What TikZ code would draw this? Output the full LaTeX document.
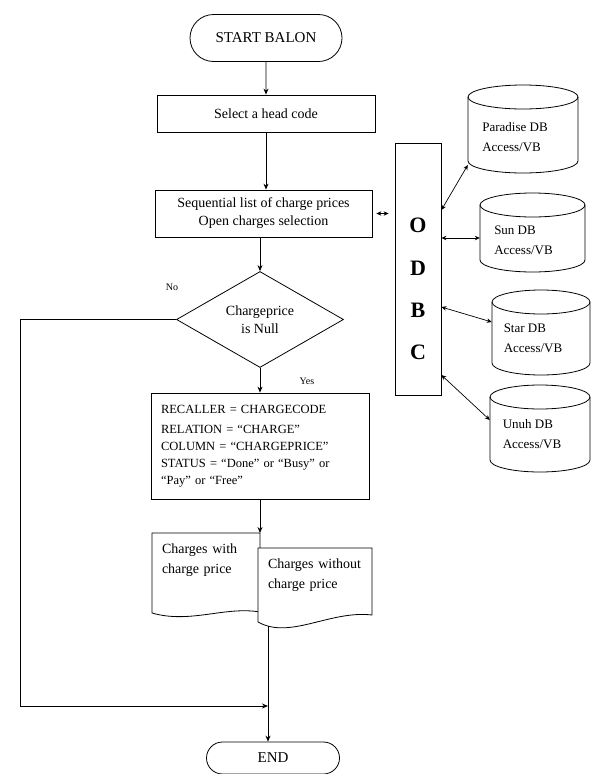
\documentclass[tikz,border=0pt]{standalone}
\usepackage{fontspec}
\setmainfont{Liberation Serif}
\usetikzlibrary{shapes.geometric,shapes.misc,arrows.meta}
\newcommand\dbcyl[5]{%
  \draw[line width=0.8pt, fill=white] (#1,#2+#5) -- (#1,#4-#5)
    .. controls (#1,#4-#5+0.552*#5) and ({(#1+#3)/2-0.552*(#3-#1)/2},#4) .. ({(#1+#3)/2},#4)
    .. controls ({(#1+#3)/2+0.552*(#3-#1)/2},#4) and (#3,#4-#5+0.552*#5) .. (#3,#4-#5) -- (#3,#2+#5);
  \draw[line width=0.8pt] ({(#1+#3)/2},#2+#5) ellipse [x radius={(#3-#1)/2*1pt}, y radius=#5pt];
}
\begin{document}
\begin{tikzpicture}[x=1pt,y=-1pt,
  every node/.style={font=\fontsize{14}{18}\selectfont},
  arr/.style={-{Stealth[length=6pt,width=5pt]}, line width=0.8pt},
  darr/.style={{Stealth[length=5pt,width=4.5pt]}-{Stealth[length=5pt,width=4.5pt]}, line width=0.7pt},
  term/.style={draw, line width=0.8pt, rounded rectangle, inner sep=0, font=\fontsize{15}{18}\selectfont},
  procbox/.style={draw, line width=0.8pt, rectangle, align=center, inner sep=0, fill=white},
  letter/.style={font=\bfseries\fontsize{22}{22}\selectfont},
  dbtext/.style={align=left, font=\fontsize{13}{20}\selectfont, inner sep=0},
  doctext/.style={align=left, inner sep=0, font=\fontsize{14}{20}\selectfont},
  lbl/.style={font=\fontsize{10}{12}\selectfont},
  ]
\useasboundingbox (0,0) rectangle (594,774);

% main column
\node[term, minimum width=152pt, minimum height=47pt] (start) at (266,38) {START BALON};
\node[procbox, minimum width=218pt, minimum height=37pt] (sel) at (266,113.5) {Select a head code};
\node[procbox, minimum width=217pt, minimum height=47pt] (seq) at (263.5,213.5) {Sequential list of charge prices\\Open charges selection};
\node[diamond, draw, line width=0.8pt, minimum width=167pt, minimum height=95pt, inner sep=0, align=center] (dec) at (260,319.5) {Chargeprice\\is Null};
\node[procbox, minimum width=218pt, minimum height=106pt, align=left, text width=198pt, font=\fontsize{12.5}{17}\selectfont] (rec) at (260,446) {RECALLER = CHARGECODE\\[3pt]RELATION = ``CHARGE''\\COLUMN = ``CHARGEPRICE''\\STATUS = ``Done'' or ``Busy'' or\\``Pay'' or ``Free''};

% documents
\draw[line width=0.8pt, fill=white] (152,533) -- (260,533) -- (260,612) .. controls (225,606) and (190,624) .. (152,613) -- cycle;
\node[doctext, text width=88pt] (d1) at (206,560) {Charges with\\charge price};
\draw[line width=0.8pt, fill=white] (258,548) -- (372,548) -- (372,615) .. controls (330,610) and (290,640) .. (258,622) -- cycle;
\node[doctext, text width=98pt] (d2) at (317,575) {Charges without\\charge price};
\coordinate (d2b) at (268,626);
\node[term, minimum width=133pt, minimum height=32pt] (end) at (273,758) {END};
\coordinate (fb) at (20,706);

% ODBC
\node[draw, line width=0.8pt, minimum width=46pt, minimum height=252pt, inner sep=0] (odbc) at (418,269) {};
\node[letter] (lo) at (418,225) {O};
\node[letter] (ld) at (418,268) {D};
\node[letter] (lb) at (418,310) {B};
\node[letter] (lc) at (418,352) {C};

% databases
\dbcyl{468}{85}{578}{173}{12}
\dbcyl{480}{193}{585}{272}{12}
\dbcyl{492}{290}{590}{375}{12}
\dbcyl{490}{385}{590}{472}{12}
\node[dbtext, minimum width=110pt, xshift=-8pt] (c1) at (523,137) {Paradise DB\\Access/VB};
\node[dbtext, minimum width=105pt, xshift=-9pt] (c2) at (532.5,240) {Sun DB\\Access/VB};
\node[dbtext, minimum width=98pt, xshift=-8pt] (c3) at (541,338) {Star DB\\Access/VB};
\node[dbtext, minimum width=100pt, xshift=-8pt] (c4) at (540,434) {Unuh DB\\Access/VB};

% connectors
\draw[arr] (start) -- (sel);
\draw[arr] (sel.south) -- (sel.south |- seq.north);
\draw[arr] (dec.north |- seq.south) -- (dec.north);
\draw[arr] (dec.south) -- (dec.south |- rec.north);
\draw[arr] (rec.south) -- (rec.south |- 0,533);
\draw[arr] (d2b) -- (d2b |- end.north);
\draw[arr] (dec.west) -- (dec.west -| fb) -- (fb) -- (fb -| d2b);
\node[lbl] (no) at (172,287) {No};
\node[lbl] (yes) at (307,381) {Yes};

\draw[darr] ([xshift=4pt]seq.east) -- ([xshift=-6pt]seq.east -| odbc.west);
\draw[darr] ([yshift=59pt]odbc.east) -- ([xshift=8pt,yshift=-28pt]c1.west);
\draw[darr] ([yshift=31pt]odbc.east) -- ([xshift=9pt,yshift=2pt]c2.west);
\draw[darr] ([yshift=-38pt]odbc.east) -- ([xshift=8pt,yshift=16pt]c3.west);
\draw[darr] ([yshift=-106pt]odbc.east) -- ([xshift=8pt,yshift=14pt]c4.west);
\end{tikzpicture}
\end{document}
